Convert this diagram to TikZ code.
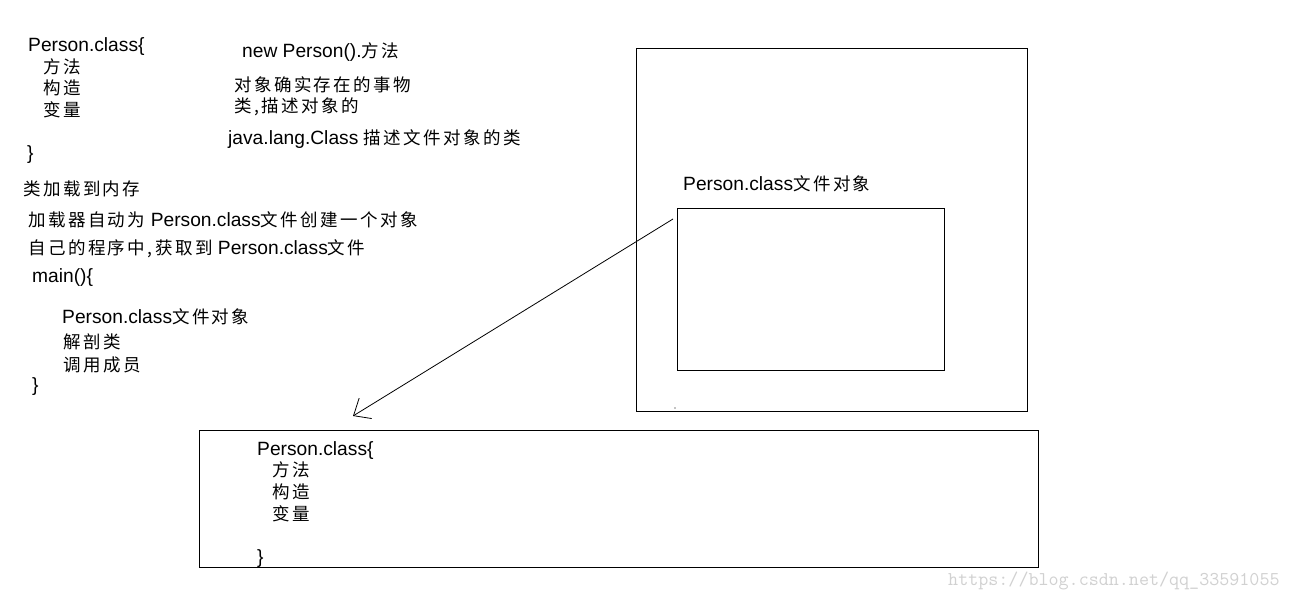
\documentclass[tikz,border=0pt]{standalone}
\usepackage{fontspec}
\setmainfont{Liberation Sans}
\newfontfamily\cjkf{Noto Sans CJK SC}[LetterSpace=14]
\newcommand{\zh}[1]{{\cjkf\fontsize{17.5}{22}\selectfont #1}}
\usetikzlibrary{arrows.meta}
\begin{document}
\begin{tikzpicture}[x=1pt,y=-1pt,
  txt/.style={anchor=base west,inner sep=0pt,font=\fontsize{19.2}{22}\selectfont},
  box/.style={draw,line width=1.1pt,inner sep=0pt,anchor=north west},
  link/.style={line width=0.8pt,-{Straight Barb[length=14pt,width=24pt,line width=0.8pt]}},
  wm/.style={anchor=base west,inner sep=0pt,text=black!18,font=\ttfamily\fontsize{19.5}{22}\selectfont}]
\useasboundingbox (0,0) rectangle (1290,599);
\fill[white] (0,0) rectangle (1290,599);

% boxes
\node[box,minimum width=391pt,minimum height=363pt] (outer) at (636,48) {};
\node[box,minimum width=267pt,minimum height=162pt] (inner) at (677,208) {};
\node[box,minimum width=839pt,minimum height=137pt] (bottom) at (199,430) {};
\fill (675,408) circle (0.6pt);

% left column
\node[txt] (a1) at (28,51.5) {Person.class\{};
\node[txt] (a2) at (43,73.5) {\zh{方法}};
\node[txt] (a3) at (43,95) {\zh{构造}};
\node[txt] (a4) at (43,116.5) {\zh{变量}};
\node[txt] (a5) at (27,160) {\}};
\node[txt] (a6) at (23,195.5) {\zh{类加载到内存}};
\node[txt] (a7) at (28,226.5) {\zh{加载器自动为} Person.class\zh{文件创建一个对象}};
\node[txt] (a8) at (28,254.5) {\zh{自己的程序中,获取到} Person.class\zh{文件}};
\node[txt] (a9) at (32,282) {main()\{};
\node[txt] (a10) at (62,323.5) {Person.class\zh{文件对象}};
\node[txt] (a11) at (63,348.5) {\zh{解剖类}};
\node[txt] (a12) at (63,371.5) {\zh{调用成员}};
\node[txt] (a13) at (32,391) {\}};

% middle column
\node[txt] (b1) at (242,58) {new Person().\zh{方法}};
\node[txt] (b2) at (234,91.5) {\zh{对象确实存在的事物}};
\node[txt] (b3) at (234,112.5) {\zh{类,描述对象的}};
\node[txt] (b4) at (228,144.5) {java.lang.Class \zh{描述文件对象的类}};

% right box label
\node[txt] (c1) at (683,190.5) {Person.class\zh{文件对象}};

% bottom box content
\node[txt] (d1) at (257,455.5) {Person.class\{};
\node[txt] (d2) at (272,476.5) {\zh{方法}};
\node[txt] (d3) at (272,498.5) {\zh{构造}};
\node[txt] (d4) at (272,520.5) {\zh{变量}};
\node[txt] (d5) at (257,563) {\}};

% arrow
\coordinate (arrS) at (673,219);
\coordinate (arrE) at (353,416);
\draw[link] (arrS) -- (arrE);

% watermark
\node[wm] (w) at (948,585) {https://blog.csdn.net/qq\_33591055};
\end{tikzpicture}
\end{document}
